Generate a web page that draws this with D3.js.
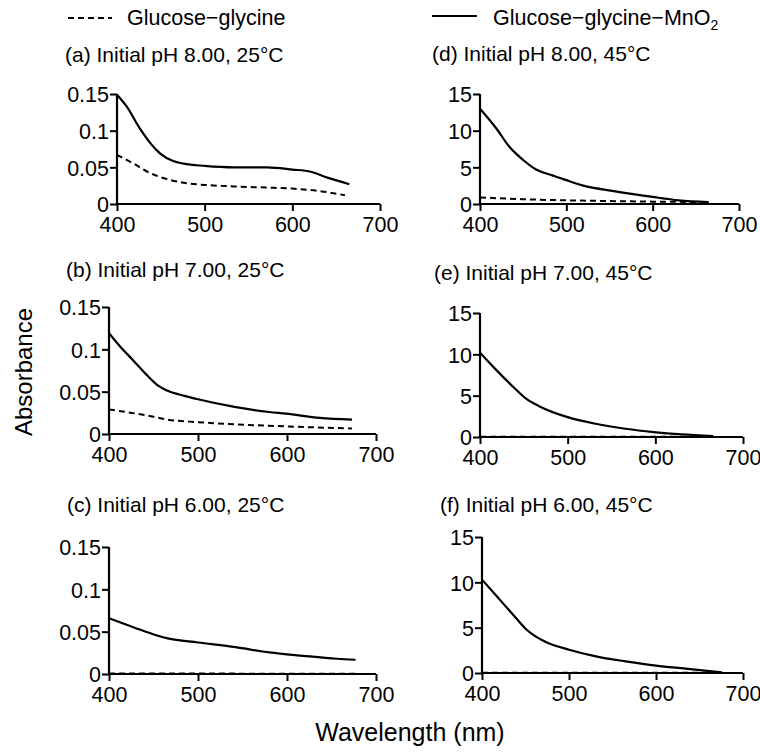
<!DOCTYPE html>
<html><head><meta charset="utf-8">
<script src="https://cdn.jsdelivr.net/npm/d3@7"></script>
<style>
body{margin:0;background:#fff;}
svg text{font-family:"Liberation Sans",Arial,Helvetica,sans-serif;fill:#000;}
</style></head>
<body><svg id="c" width="760" height="753"></svg>
<script>
// ---------- data ----------
const xTicks = [400, 500, 600, 700];
const yTicks25 = [0, 0.05, 0.1, 0.15];
const yTickLabels25 = ["0", "0.05", "0.1", "0.15"];
const yTicks45 = [0, 5, 10, 15];
const yTickLabels45 = ["0", "5", "10", "15"];

const seriesNames = ["Glucose\u2212glycine", "Glucose\u2212glycine\u2212MnO"];
const panelTitles = [
  "(a) Initial pH 8.00, 25\u00B0C", "(b) Initial pH 7.00, 25\u00B0C", "(c) Initial pH 6.00, 25\u00B0C",
  "(d) Initial pH 8.00, 45\u00B0C", "(e) Initial pH 7.00, 45\u00B0C", "(f) Initial pH 6.00, 45\u00B0C"
];

// (a) pH 8, 25 C
const wlA_mn = [400, 411, 426, 438, 449, 464, 476, 500, 533, 571, 600, 621, 640, 665];
const valA_mn = [0.149, 0.133, 0.103, 0.083, 0.069, 0.0585, 0.055, 0.052, 0.050, 0.050, 0.047, 0.044, 0.036, 0.027];
const wlA_gg = [400, 419, 438, 457, 476, 500, 533, 571, 600, 629, 660];
const valA_gg = [0.067, 0.055, 0.042, 0.034, 0.029, 0.026, 0.024, 0.0224, 0.021, 0.018, 0.012];
// (b) pH 7, 25 C
const wlB_mn = [400, 412, 428, 443, 454, 466, 485, 500, 541, 580, 599, 637, 673];
const valB_mn = [0.119, 0.104, 0.086, 0.069, 0.058, 0.051, 0.045, 0.041, 0.032, 0.026, 0.024, 0.019, 0.017];
const wlB_gg = [400, 447, 466, 500, 541, 599, 673];
const valB_gg = [0.029, 0.021, 0.017, 0.014, 0.0115, 0.009, 0.0065];
// (c) pH 6, 25 C
const wlC_mn = [400, 428, 454, 466, 500, 542, 580, 618, 656, 677];
const valC_mn = [0.0658, 0.055, 0.0455, 0.042, 0.0372, 0.0317, 0.0255, 0.0215, 0.018, 0.0168];
const wlC_gg = [400, 500, 600, 677];
const valC_gg = [0.0006, 0.0005, 0.0004, 0.0004];
// (d) pH 8, 45 C
const wlD_mn = [400, 419, 434, 450, 465, 484, 500, 523, 553, 600, 630, 665];
const valD_mn = [13.0, 10.3, 7.8, 6.0, 4.7, 3.9, 3.25, 2.4, 1.8, 0.96, 0.5, 0.27];
const wlD_gg = [400, 450, 500, 550, 600, 665];
const valD_gg = [0.9, 0.65, 0.5, 0.4, 0.32, 0.27];
// (e) pH 7, 45 C
const wlE_mn = [400, 419, 438, 453, 468, 500, 532, 566, 598, 630, 666];
const valE_mn = [10.2, 8.06, 6.05, 4.6, 3.7, 2.4, 1.6, 1.0, 0.6, 0.32, 0.12];
const wlE_gg = [400, 500, 600, 666];
const valE_gg = [0.04, 0.035, 0.03, 0.03];
// (f) pH 6, 45 C
const wlF_mn = [400, 417, 436, 451, 459, 474, 500, 531, 565, 600, 634, 676];
const valF_mn = [10.3, 8.46, 6.4, 4.8, 4.2, 3.4, 2.57, 1.84, 1.29, 0.81, 0.48, 0.07];
const wlF_gg = [400, 500, 600, 676];
const valF_gg = [0.04, 0.035, 0.03, 0.03];

// ---------- layout ----------
const layout = [
  {x0:117, x1:380, y0:204, y1:94, tx:65, ty:62, temp:25, mn:[wlA_mn,valA_mn], gg:[wlA_gg,valA_gg]},
  {x0:109, x1:376, y0:434, y1:307, tx:66, ty:277, temp:25, mn:[wlB_mn,valB_mn], gg:[wlB_gg,valB_gg]},
  {x0:109, x1:376, y0:674, y1:547, tx:67, ty:512, temp:25, mn:[wlC_mn,valC_mn], gg:[wlC_gg,valC_gg]},
  {x0:480, x1:739, y0:204, y1:94, tx:432, ty:61, temp:45, mn:[wlD_mn,valD_mn], gg:[wlD_gg,valD_gg]},
  {x0:480, x1:743, y0:437, y1:313, tx:434, ty:280, temp:45, mn:[wlE_mn,valE_mn], gg:[wlE_gg,valE_gg]},
  {x0:482, x1:743, y0:673, y1:537, tx:440, ty:512, temp:45, mn:[wlF_mn,valF_mn], gg:[wlF_gg,valF_gg]}
];

const svg = d3.select("#c");
const FS_TICK = 21.5, FS_TITLE = 21;

layout.forEach((p, i) => {
  const x = d3.scaleLinear().domain([400, 700]).range([p.x0, p.x1]);
  const y = p.temp === 25
    ? d3.scaleLinear().domain([0, 0.15]).range([p.y0, p.y1])
    : d3.scaleLinear().domain([0, 15]).range([p.y0, p.y1]);
  const yt = p.temp === 25 ? yTicks25 : yTicks45;
  const ytl = p.temp === 25 ? yTickLabels25 : yTickLabels45;

  const g = svg.append("g");
  g.append("text").attr("x", p.tx).attr("y", p.ty).attr("font-size", FS_TITLE).text(panelTitles[i]);

  const xa = g.append("g").attr("transform", `translate(0,${p.y0})`)
    .call(d3.axisBottom(x).tickValues(xTicks).tickSize(7).tickPadding(3).tickFormat(d3.format("d")));
  const ya = g.append("g").attr("transform", `translate(${p.x0},0)`)
    .call(d3.axisLeft(y).tickValues(yt).tickSize(7).tickPadding(1).tickFormat((d, k) => ytl[k]));
  [xa, ya].forEach(a => {
    a.select(".domain").attr("stroke", "#000").attr("stroke-width", 2.2);
    a.selectAll(".tick line").attr("stroke", "#000").attr("stroke-width", 2);
    a.selectAll(".tick text").attr("font-size", FS_TICK).attr("font-family", '"Liberation Sans",Arial,sans-serif').attr("fill", "#000");
  });
  xa.select(".domain").attr("d", `M${p.x0},0H${p.x1}`);
  ya.select(".domain").attr("d", `M0,${p.y0}V${p.y1}`);
  xa.selectAll(".tick text").attr("dy", "0.85em");
  ya.selectAll(".tick text").attr("dy", "0.36em");

  const line = d3.line().x(d => x(d[0])).y(d => y(d[1])).curve(d3.curveMonotoneX);
  const ggData = p.gg[0].map((w, k) => [w, p.gg[1][k]]);
  const mnData = p.mn[0].map((w, k) => [w, p.mn[1][k]]);
  g.append("path").datum(ggData).attr("d", line).attr("fill", "none")
    .attr("stroke", "#000").attr("stroke-width", 2).attr("stroke-dasharray", "6,4");
  g.append("path").datum(mnData).attr("d", line).attr("fill", "none")
    .attr("stroke", "#000").attr("stroke-width", 2.2);
});

// legend
const leg = svg.append("g");
leg.append("line").attr("x1", 68).attr("x2", 112).attr("y1", 18).attr("y2", 18)
  .attr("stroke", "#000").attr("stroke-width", 2).attr("stroke-dasharray", "6,4");
leg.append("text").attr("x", 127).attr("y", 25).attr("font-size", 21.5).text(seriesNames[0]);
leg.append("line").attr("x1", 432).attr("x2", 477).attr("y1", 16).attr("y2", 16)
  .attr("stroke", "#000").attr("stroke-width", 2.2);
const t2 = leg.append("text").attr("x", 493).attr("y", 25).attr("font-size", 21.5).text(seriesNames[1]);
t2.append("tspan").attr("font-size", 14).attr("dy", 5).text("2");

// axis titles
svg.append("text").attr("x", 410).attr("y", 741).attr("text-anchor", "middle").attr("font-size", 25).text("Wavelength (nm)");
svg.append("text").attr("transform", "translate(32,372) rotate(-90)").attr("text-anchor", "middle").attr("font-size", 24).text("Absorbance");
</script></body></html>
